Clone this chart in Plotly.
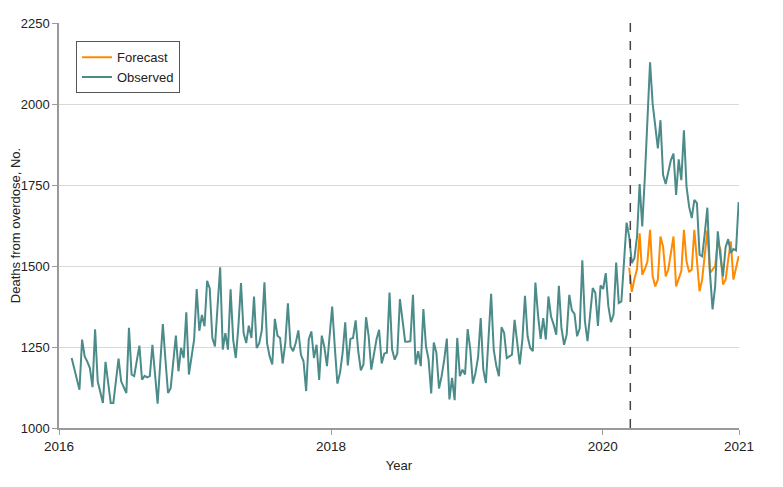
import pandas as pd
import plotly.graph_objects as go

# Weekly observed overdose deaths (first week starting 2016-02-04)
observed = [
    1216, 1182, 1150, 1118, 1273, 1221, 1205, 1185, 1126, 1305,
    1144, 1105, 1077, 1204, 1140, 1077, 1077, 1150, 1214, 1144,
    1128, 1108, 1309, 1165, 1160, 1210, 1254, 1149, 1161, 1156,
    1160, 1257, 1165, 1075, 1200, 1321, 1210, 1108, 1123, 1210,
    1285, 1175, 1247, 1216, 1357, 1165, 1220, 1273, 1429, 1300,
    1349, 1314, 1454, 1431, 1278, 1252, 1375, 1496, 1242, 1293,
    1242, 1428, 1272, 1216, 1314, 1447, 1293, 1262, 1316, 1278,
    1406, 1247, 1262, 1303, 1450, 1262, 1221, 1196, 1337, 1285,
    1278, 1199, 1262, 1385, 1252, 1237, 1262, 1301, 1226, 1206,
    1114, 1273, 1298, 1216, 1257, 1148, 1285, 1250, 1191, 1285,
    1375, 1250, 1137, 1170, 1232, 1326, 1193, 1275, 1278, 1332,
    1237, 1178, 1196, 1342, 1283, 1180, 1226, 1273, 1303, 1199,
    1230, 1232, 1418, 1242, 1211, 1230, 1398, 1334, 1267, 1266,
    1268, 1411, 1196, 1237, 1191, 1367, 1252, 1211, 1107, 1264,
    1232, 1122, 1160, 1211, 1276, 1088, 1155, 1086, 1278, 1160,
    1180, 1165, 1305, 1242, 1137, 1170, 1219, 1339, 1180, 1139,
    1273, 1414, 1242, 1191, 1160, 1311, 1293, 1216, 1221, 1226,
    1334, 1262, 1196, 1273, 1408, 1283, 1247, 1237, 1449, 1349,
    1275, 1339, 1273, 1406, 1344, 1319, 1288, 1439, 1308, 1257,
    1288, 1411, 1363, 1352, 1283, 1308, 1518, 1330, 1268, 1350,
    1432, 1417, 1315, 1440, 1429, 1478, 1376, 1327, 1350, 1511,
    1386, 1391, 1500, 1634, 1591, 1509, 1524, 1591, 1753, 1622,
    1773, 1980, 2129, 2001, 1927, 1863, 1950, 1781, 1753, 1794,
    1827, 1847, 1719, 1829, 1765, 1919, 1745, 1683, 1648, 1704,
    1694, 1535, 1530, 1600, 1680, 1478, 1366, 1438, 1607, 1530,
    1468, 1558, 1583, 1540, 1552, 1548, 1697,
]
observed_start = "2016-02-04"

# Weekly forecast, starting at week index 214 of the observed series
forecast = [
    1495, 1420, 1460, 1490, 1601, 1473, 1490, 1514, 1612, 1468,
    1437, 1458, 1591, 1560, 1468, 1489, 1540, 1591, 1437, 1458,
    1484, 1612, 1514, 1481, 1489, 1612, 1520, 1422, 1458, 1530,
    1610, 1478, 1491, 1500, 1576, 1550, 1443, 1458, 1520, 1576,
    1458, 1490, 1530,
]
forecast_offset = 214

cutoff_date = "2020-03-15"
x_tick_vals = ["2016-01-01", "2018-01-01", "2020-01-01", "2021-01-01"]
x_tick_text = ["2016", "2018", "2020", "2021"]
y_tick_vals = [1000, 1250, 1500, 1750, 2000, 2250]

obs_dates = pd.date_range(observed_start, periods=len(observed), freq="7D")
fc_dates = obs_dates[forecast_offset:forecast_offset + len(forecast)]

FONT = "Liberation Sans"
TEAL = "#4b8b89"
ORANGE = "#ff8a00"
TXT = "#222222"

fig = go.Figure()
fig.add_trace(go.Scatter(x=fc_dates, y=forecast, mode="lines", name="Forecast",
                         line=dict(color=ORANGE, width=2)))
fig.add_trace(go.Scatter(x=obs_dates, y=observed, mode="lines", name="Observed",
                         line=dict(color=TEAL, width=2)))

fig.add_shape(type="line", x0=cutoff_date, x1=cutoff_date, xref="x",
              y0=0, y1=1.013, yref="paper",
              line=dict(color="#444444", width=1.5, dash="dash"))

# the page places the figure 8 px in from the top-left corner; margins compensate
fig.update_layout(
    width=783, height=487,
    margin=dict(l=51, r=52, t=15, b=67, autoexpand=False),
    plot_bgcolor="white", paper_bgcolor="white",
    font=dict(family=FONT, size=13, color=TXT),
    showlegend=True,
    legend=dict(x=0.025, y=0.955, xanchor="left", yanchor="top",
                bgcolor="white", bordercolor="#555555", borderwidth=1,
                font=dict(family=FONT, size=13, color=TXT),
                tracegroupgap=0, itemwidth=30),
    xaxis=dict(type="date", range=["2016-01-01", "2021-01-01"],
               tickvals=x_tick_vals, ticktext=x_tick_text,
               automargin=False,
               showgrid=False, zeroline=False,
               showline=True, linecolor="#9a9a9a", linewidth=1.5,
               ticks="outside", ticklen=5, tickcolor="#9a9a9a", tickwidth=1,
               tickfont=dict(family=FONT, size=13.5, color=TXT),
               title=dict(text="Year", standoff=8,
                          font=dict(family=FONT, size=13, color=TXT))),
    yaxis=dict(range=[1000, 2250], tickvals=y_tick_vals,
               automargin=False,
               showgrid=True, gridcolor="#d9d9d9", gridwidth=1,
               zeroline=False,
               showline=True, linecolor="#9a9a9a", linewidth=1.5,
               ticks="outside", ticklen=5, tickcolor="#9a9a9a", tickwidth=1,
               tickfont=dict(family=FONT, size=13, color=TXT),
               title=dict(text="Deaths from overdose, No.", standoff=4,
                          font=dict(family=FONT, size=13, color=TXT))),
)

fig.write_html("out.html")
